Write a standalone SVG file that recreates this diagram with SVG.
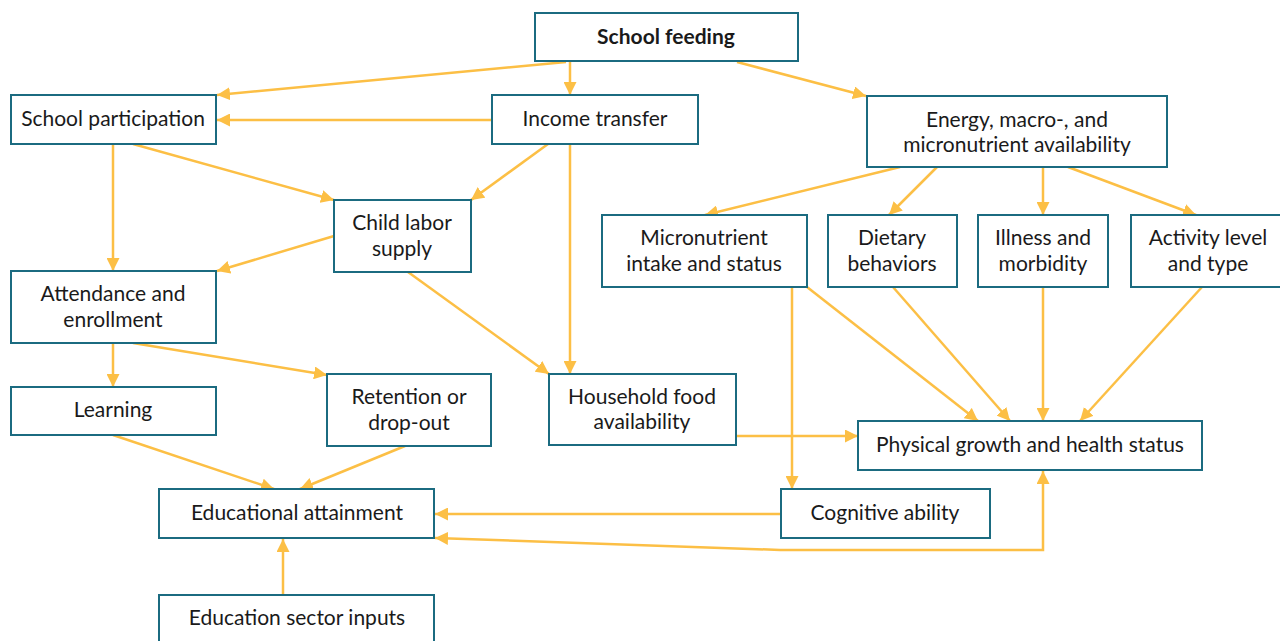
<svg xmlns="http://www.w3.org/2000/svg" width="1280" height="641" viewBox="0 0 1280 641">
<defs>
<style>
.n rect{fill:#fff;stroke:#1b6b80;stroke-width:2}
.n text{font-family:Lato,"Noto Sans","Liberation Sans",sans-serif;font-size:21px;fill:#1a1a1a;text-anchor:middle}
.c line,.c polyline{stroke:#fcbf45;stroke-width:2.5;fill:none;marker-end:url(#a)}
</style>
<marker id="a" viewBox="0 0 12 12" refX="12" refY="6" markerWidth="13" markerHeight="13" markerUnits="userSpaceOnUse" orient="auto-start-reverse">
<path d="M0,0 L12,6 L0,12 Z" fill="#fcbf45"/>
</marker>
</defs>
<rect width="1280" height="641" fill="#fff"/>
<g id="connectors" class="c">
<line x1="566" y1="62" x2="217" y2="95"/>
<line x1="570" y1="62" x2="570" y2="95"/>
<line x1="737" y1="62" x2="866" y2="96"/>
<line x1="492" y1="120" x2="217" y2="120"/>
<line x1="113" y1="144" x2="113" y2="271"/>
<line x1="133" y1="144" x2="334" y2="200"/>
<line x1="548" y1="144" x2="471" y2="200"/>
<line x1="570" y1="144" x2="570" y2="374"/>
<line x1="334" y1="236" x2="217" y2="271"/>
<line x1="408" y1="272" x2="549" y2="374"/>
<line x1="113" y1="343" x2="113" y2="387"/>
<line x1="133" y1="343" x2="327" y2="375"/>
<line x1="113" y1="435" x2="274" y2="489"/>
<line x1="405" y1="446" x2="300" y2="489"/>
<line x1="736" y1="436" x2="858" y2="436"/>
<line x1="900" y1="167" x2="705" y2="215"/>
<line x1="937" y1="167" x2="889" y2="215"/>
<line x1="1043" y1="167" x2="1043" y2="215"/>
<line x1="1068" y1="167" x2="1196" y2="215"/>
<line x1="792" y1="287" x2="792" y2="489"/>
<line x1="807" y1="287" x2="978" y2="421"/>
<line x1="893" y1="287" x2="1010" y2="421"/>
<line x1="1043" y1="287" x2="1043" y2="421"/>
<line x1="1202" y1="287" x2="1080" y2="421"/>
<line x1="781" y1="514" x2="435" y2="514"/>
<polyline points="435,538 780,550 1043,550 1043,471" style="marker-start:url(#a)"/>
<line x1="283" y1="595" x2="283" y2="539"/>
</g>
<g id="school-feeding" class="n"><rect x="535" y="13" width="263" height="48"/><text x="666" y="44" font-weight="bold">School feeding</text></g>
<g id="school-participation" class="n"><rect x="11" y="95" width="205" height="49"/><text x="113" y="126">School participation</text></g>
<g id="income-transfer" class="n"><rect x="492" y="95" width="206" height="49"/><text x="595" y="126">Income transfer</text></g>
<g id="energy" class="n"><rect x="867" y="96" width="300" height="71"/><text x="1017" y="127">Energy, macro-, and</text><text x="1017" y="152">micronutrient availability</text></g>
<g id="child-labor" class="n"><rect x="334" y="200" width="137" height="72"/><text x="402" y="230">Child labor</text><text x="402" y="256">supply</text></g>
<g id="attendance" class="n"><rect x="11" y="271" width="205" height="72"/><text x="113" y="301">Attendance and</text><text x="113" y="327">enrollment</text></g>
<g id="micronutrient" class="n"><rect x="602" y="215" width="205" height="72"/><text x="704" y="245">Micronutrient</text><text x="704" y="271">intake and status</text></g>
<g id="dietary" class="n"><rect x="828" y="215" width="129" height="72"/><text x="892" y="245">Dietary</text><text x="892" y="271">behaviors</text></g>
<g id="illness" class="n"><rect x="978" y="215" width="130" height="72"/><text x="1043" y="245">Illness and</text><text x="1043" y="271">morbidity</text></g>
<g id="activity" class="n"><rect x="1131" y="215" width="160" height="72"/><text x="1208" y="245">Activity level</text><text x="1208" y="271">and type</text></g>
<g id="learning" class="n"><rect x="11" y="387" width="205" height="48"/><text x="113" y="417">Learning</text></g>
<g id="retention" class="n"><rect x="327" y="374" width="164" height="72"/><text x="409" y="404">Retention or</text><text x="409" y="430">drop-out</text></g>
<g id="household-food" class="n"><rect x="549" y="374" width="187" height="71"/><text x="642" y="404">Household food</text><text x="642" y="429">availability</text></g>
<g id="physical-growth" class="n"><rect x="858" y="421" width="344" height="49"/><text x="1030" y="452">Physical growth and health status</text></g>
<g id="educational-attainment" class="n"><rect x="159" y="489" width="275" height="49"/><text x="297" y="520">Educational attainment</text></g>
<g id="cognitive-ability" class="n"><rect x="781" y="489" width="209" height="49"/><text x="885" y="520">Cognitive ability</text></g>
<g id="education-sector-inputs" class="n"><rect x="159" y="595" width="275" height="60"/><text x="297" y="625">Education sector inputs</text></g>
</svg>
